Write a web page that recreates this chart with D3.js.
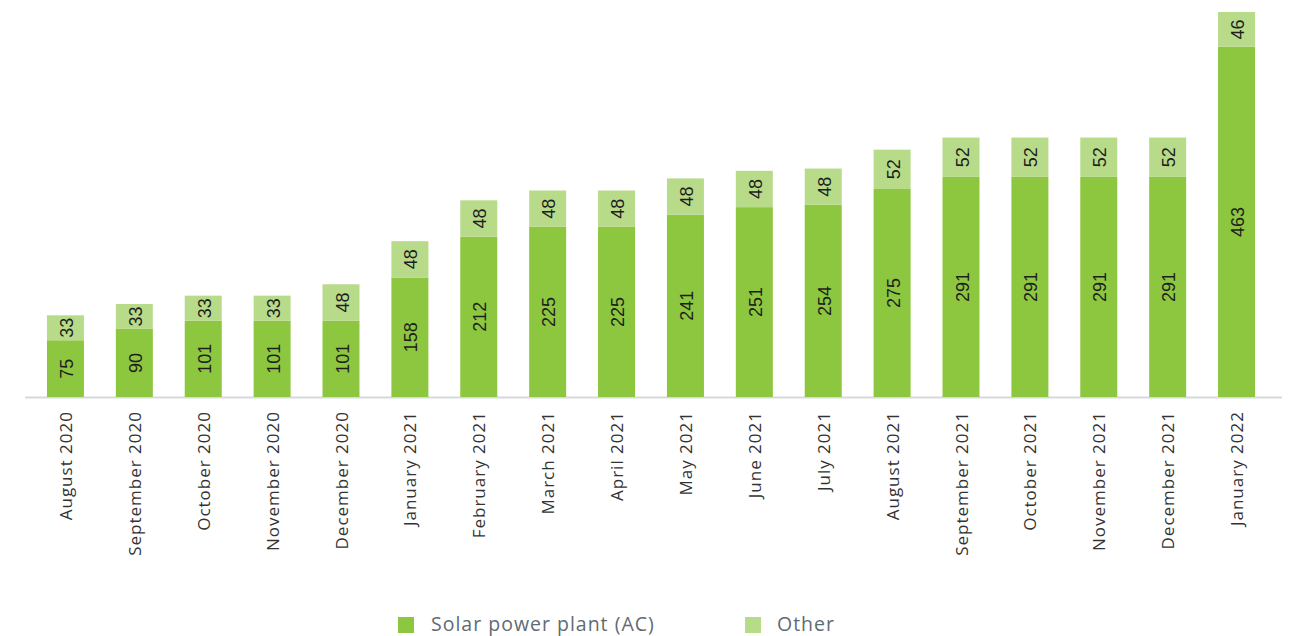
<!DOCTYPE html>
<html><head><meta charset="utf-8">
<script src="https://cdn.jsdelivr.net/npm/d3@7"></script>
<style>body{margin:0;background:#fff;}svg{display:block;}</style>
</head><body>
<svg id="c" width="1291" height="636"></svg>
<script>
const categories = ["August 2020","September 2020","October 2020","November 2020","December 2020","January 2021","February 2021","March 2021","April 2021","May 2021","June 2021","July 2021","August 2021","September 2021","October 2021","November 2021","December 2021","January 2022"];
const solar = [75,90,101,101,101,158,212,225,225,241,251,254,275,291,291,291,291,463];
const other = [33,33,33,33,48,48,48,48,48,48,48,48,52,52,52,52,52,46];
const seriesNames = ["Solar power plant (AC)","Other"];
const colors = ["#8dc63f","#b8db8a"];

const svg = d3.select("#c");
const baseY = 397, topY = 12;
const x = d3.scaleBand().domain(categories).range([31, 1271]).paddingInner(0.463).paddingOuter(0.2315);
const y = d3.scaleLinear().domain([0, 509]).range([baseY, topY]);

svg.append("line").attr("x1",25).attr("x2",1282).attr("y1",baseY+0.5).attr("y2",baseY+0.5)
  .attr("stroke","#d5d9de").attr("stroke-width",2);

const g = svg.append("g");
categories.forEach((c,i)=>{
  const bx = x(c), w = x.bandwidth();
  const s = solar[i], o = other[i];
  g.append("rect").attr("x",bx).attr("width",w).attr("y",y(s)).attr("height",y(0)-y(s)).attr("fill",colors[0]);
  g.append("rect").attr("x",bx).attr("width",w).attr("y",y(s+o)).attr("height",y(s)-y(s+o)).attr("fill",colors[1]);
  const cx = bx + w/2;
  [[s,(y(0)+y(s))/2],[o,(y(s)+y(s+o))/2]].forEach(([v,cy])=>{
    g.append("text").attr("transform",`translate(${cx+1.5},${cy}) rotate(-90)`)
      .attr("text-anchor","middle").attr("dominant-baseline","central")
      .attr("font-family","'Liberation Sans', Arial, sans-serif").attr("font-size",18)
      .attr("fill","#1e1e1e").text(v);
  });
  g.append("text").attr("transform",`translate(${cx},${baseY+14}) rotate(-90)`)
    .attr("text-anchor","end").attr("dominant-baseline","central")
    .attr("font-family","'Open Sans', sans-serif").attr("font-size",17).attr("letter-spacing",1)
    .attr("fill","#333").text(c);
});

const lg = svg.append("g");
[[398,431],[745,777]].forEach(([sx,tx],i)=>{
  lg.append("rect").attr("x",sx).attr("y",617).attr("width",16).attr("height",16).attr("fill",colors[i]);
  lg.append("text").attr("x",tx).attr("y",623).attr("dominant-baseline","central")
    .attr("font-family","'Open Sans', sans-serif").attr("font-size",19.5).attr("letter-spacing",1)
    .attr("fill","#5f6b73").text(seriesNames[i]);
});
</script>
</body></html>
